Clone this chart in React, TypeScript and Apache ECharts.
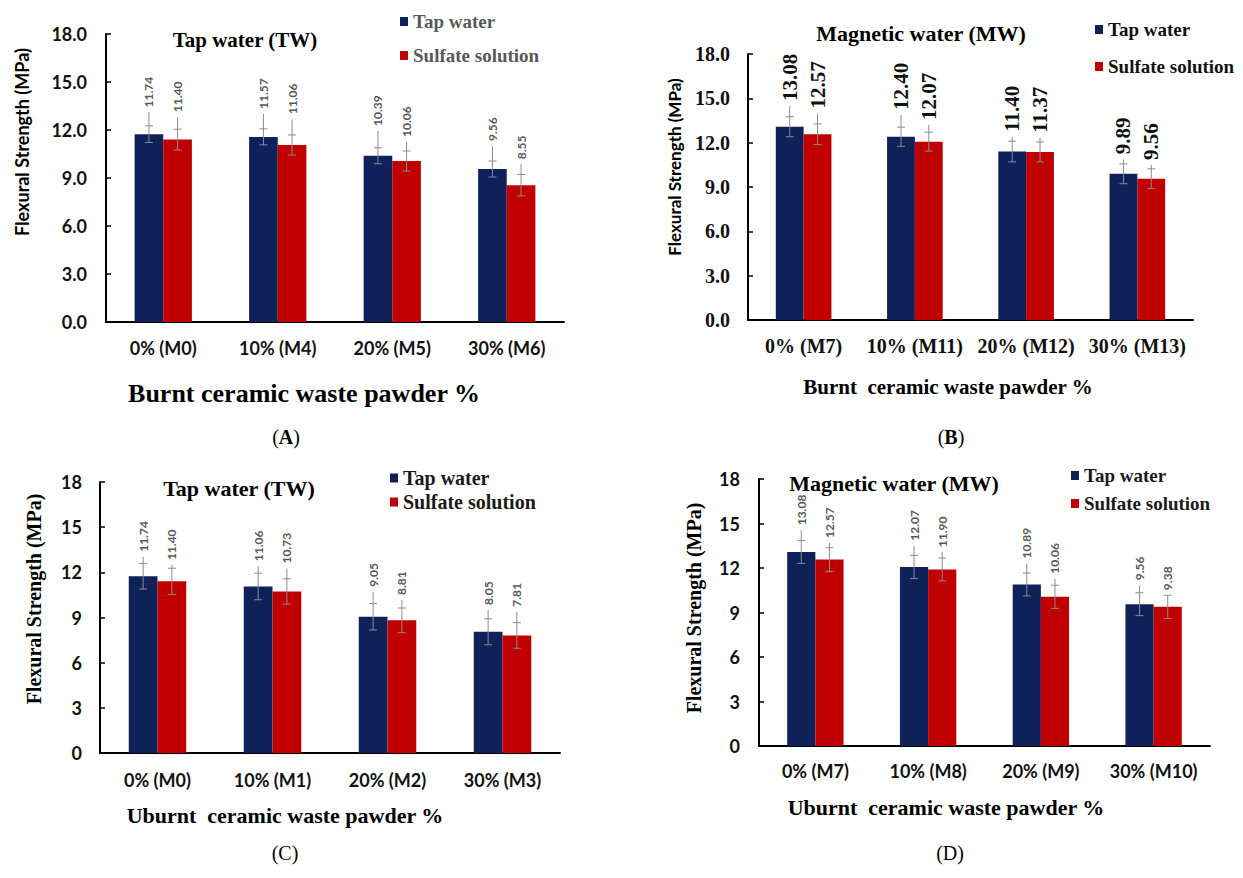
import React, { useEffect, useRef } from "react";
import * as echarts from "echarts";

// ---------- data ----------
const catA = ["0% (M0)", "10% (M4)", "20% (M5)", "30% (M6)"];
const tapA = [11.74, 11.57, 10.39, 9.56];
const sulA = [11.4, 11.06, 10.06, 8.55];
const tapErrA = [0.52, 0.5, 0.5, 0.5];
const sulErrA = [0.65, 0.63, 0.63, 0.67];
const tapLeadA = [13.1, 13.0, 11.94, 11.0];
const sulLeadA = [12.8, 12.67, 11.25, 9.86];

const catB = ["0% (M7)", "10% (M11)", "20% (M12)", "30% (M13)"];
const tapB = [13.08, 12.4, 11.4, 9.89];
const sulB = [12.57, 12.07, 11.37, 9.56];
const tapErrB = [0.68, 0.65, 0.7, 0.67];
const sulErrB = [0.7, 0.64, 0.68, 0.67];
const tapLeadB = [14.48, 13.87, 12.4, 10.87];
const sulLeadB = [13.98, 13.2, 12.33, 10.49];

const catC = ["0% (M0)", "10% (M1)", "20% (M2)", "30% (M3)"];
const tapC = [11.74, 11.06, 9.05, 8.05];
const sulC = [11.4, 10.73, 8.81, 7.81];
const tapErrC = [0.85, 0.88, 0.88, 0.86];
const sulErrC = [0.87, 0.84, 0.82, 0.85];
const tapLeadC = [13.03, 12.41, 10.71, 9.5];
const sulLeadC = [12.48, 12.26, 10.16, 9.38];

const catD = ["0% (M7)", "10% (M8)", "20% (M9)", "30% (M10)"];
const tapD = [13.08, 12.07, 10.89, 9.56];
const sulD = [12.57, 11.9, 10.06, 9.38];
const tapErrD = [0.77, 0.78, 0.77, 0.77];
const sulErrD = [0.8, 0.77, 0.78, 0.78];
const tapLeadD = [14.54, 13.5, 12.3, 10.84];
const sulLeadD = [13.69, 13.06, 11.27, 10.17];

const yMin = 0;
const yMax = 18;
const yStep = 3;

const legendNames = ["Tap water", "Sulfate solution"];

// ---------- styles ----------
const SERIF = "'Liberation Serif', 'Times New Roman', serif";
const SANS = "Lato, 'Open Sans', sans-serif";
const NAVY = "#0f2159";
const RED = "#c00000";
const ERR = "#8c8c8c";

type Panel = {
  cats: string[];
  tap: number[];
  sul: number[];
  tapErr: number[];
  sulErr: number[];
  tapLead: number[];
  sulLead: number[];
  grid: { left: number; top: number; width: number; height: number };
  tickFont: any;
  tickDecimals: number;
  tickMargin: number;
  catFont: any;
  catMargin: number;
  valFont: any;
};

const panels: Panel[] = [
  {
    cats: catA, tap: tapA, sul: sulA, tapErr: tapErrA, sulErr: sulErrA, tapLead: tapLeadA, sulLead: sulLeadA,
    grid: { left: 106, top: 34, width: 458, height: 288 },
    tickFont: { fontFamily: SANS, fontWeight: "bold", fontSize: 18, color: "#111" },
    tickDecimals: 1, tickMargin: 19,
    catFont: { fontFamily: SANS, fontWeight: "bold", fontSize: 18, color: "#111" },
    catMargin: 17,
    valFont: { fontFamily: SANS, fontWeight: "bold", fontSize: 12, fill: "#595959" },
  },
  {
    cats: catB, tap: tapB, sul: sulB, tapErr: tapErrB, sulErr: sulErrB, tapLead: tapLeadB, sulLead: sulLeadB,
    grid: { left: 748, top: 54, width: 445, height: 266 },
    tickFont: { fontFamily: SERIF, fontWeight: "bold", fontSize: 20, color: "#111" },
    tickDecimals: 1, tickMargin: 18,
    catFont: { fontFamily: SERIF, fontWeight: "bold", fontSize: 20, color: "#111" },
    catMargin: 16,
    valFont: { fontFamily: SERIF, fontWeight: "bold", fontSize: 21, fill: "#111" },
  },
  {
    cats: catC, tap: tapC, sul: sulC, tapErr: tapErrC, sulErr: sulErrC, tapLead: tapLeadC, sulLead: sulLeadC,
    grid: { left: 100, top: 482, width: 460, height: 271 },
    tickFont: { fontFamily: SANS, fontWeight: "bold", fontSize: 18, color: "#111" },
    tickDecimals: 0, tickMargin: 18,
    catFont: { fontFamily: SANS, fontWeight: "bold", fontSize: 18, color: "#111" },
    catMargin: 18,
    valFont: { fontFamily: SANS, fontWeight: "bold", fontSize: 12, fill: "#595959" },
  },
  {
    cats: catD, tap: tapD, sul: sulD, tapErr: tapErrD, sulErr: sulErrD, tapLead: tapLeadD, sulLead: sulLeadD,
    grid: { left: 759, top: 479, width: 451, height: 267 },
    tickFont: { fontFamily: SANS, fontWeight: "bold", fontSize: 18, color: "#111" },
    tickDecimals: 0, tickMargin: 19,
    catFont: { fontFamily: SANS, fontWeight: "bold", fontSize: 18, color: "#111" },
    catMargin: 16,
    valFont: { fontFamily: SANS, fontWeight: "bold", fontSize: 12, fill: "#595959" },
  },
];

function errSeries(p: Panel, idx: number, side: number, vals: number[], errs: number[], leads: number[]) {
  const data = vals.map((v, i) => ({ value: [i, v - errs[i], v + errs[i], leads[i], v] }));
  return {
    type: "custom",
    name: "err" + idx + side,
    xAxisIndex: idx,
    yAxisIndex: idx,
    z: 5,
    clip: false,
    silent: true,
    encode: { x: 0, y: [1, 2, 3] },
    data,
    renderItem: (params: any, api: any) => {
      const ci = api.value(0);
      const lo = api.coord([ci, api.value(1)]);
      const hi = api.coord([ci, api.value(2)]);
      const top = api.coord([ci, api.value(3)]);
      const bw = api.size([1, 0])[0] * 0.25;
      const x = lo[0] + (side * bw) / 2;
      const cap = 4;
      const ls = { stroke: ERR, lineWidth: 1 };
      return {
        type: "group",
        children: [
          { type: "line", shape: { x1: x, y1: top[1], x2: x, y2: lo[1] }, style: ls },
          { type: "line", shape: { x1: x - cap, y1: hi[1], x2: x + cap, y2: hi[1] }, style: ls },
          { type: "line", shape: { x1: x - cap, y1: lo[1], x2: x + cap, y2: lo[1] }, style: ls },
          {
            type: "text",
            x: x,
            y: top[1] - 5,
            rotation: Math.PI / 2,
            style: {
              text: Number(api.value(4)).toFixed(2),
              align: "left",
              verticalAlign: "middle",
              ...p.valFont,
            },
          },
        ],
      };
    },
  };
}

function buildOption() {
  const grid = panels.map((p) => ({ ...p.grid, containLabel: false }));
  const xAxis = panels.map((p, i) => ({
    type: "category",
    gridIndex: i,
    data: p.cats,
    axisLine: { show: true, lineStyle: { color: "#000", width: 2 } },
    axisTick: { show: false },
    axisLabel: { ...p.catFont, margin: p.catMargin, interval: 0 },
    splitLine: { show: false },
  }));
  const yAxis = panels.map((p, i) => ({
    type: "value",
    gridIndex: i,
    min: yMin,
    max: yMax,
    interval: yStep,
    axisLine: { show: true, lineStyle: { color: "#000", width: 2 } },
    axisTick: { show: true, inside: true, length: 5, lineStyle: { color: "#000", width: 1.5 } },
    axisLabel: {
      ...p.tickFont,
      margin: p.tickMargin,
      formatter: (v: number) => v.toFixed(p.tickDecimals),
    },
    splitLine: { show: false },
  }));
  const series: any[] = [];
  panels.forEach((p, i) => {
    series.push({
      type: "bar",
      name: legendNames[0],
      xAxisIndex: i,
      yAxisIndex: i,
      data: p.tap,
      barGap: "0%",
      barCategoryGap: "50%",
      itemStyle: { color: NAVY },
    });
    series.push({
      type: "bar",
      name: legendNames[1],
      xAxisIndex: i,
      yAxisIndex: i,
      data: p.sul,
      barGap: "0%",
      barCategoryGap: "50%",
      itemStyle: { color: RED },
    });
    series.push(errSeries(p, i, -1, p.tap, p.tapErr, p.tapLead));
    series.push(errSeries(p, i, 1, p.sul, p.sulErr, p.sulLead));
  });

  const legendBase = (left: number, top: number, gap: number, size: number, color: string) => ({
    data: legendNames,
    orient: "vertical",
    left,
    top,
    padding: 0,
    itemWidth: 8,
    itemHeight: 9,
    itemGap: gap,
    icon: "rect",
    selectedMode: false,
    textStyle: { fontFamily: SERIF, fontWeight: "bold", fontSize: size, color, lineHeight: size, padding: [0, 0, 0, 0] },
  });
  const legend = [
    legendBase(400, 12, 15, 19, "#595959"),
    legendBase(1095, 20, 18, 19, "#111"),
    legendBase(390, 468, 4, 20, "#1a1a1a"),
    legendBase(1071, 466, 9, 19, "#1a1a1a"),
  ];

  const t = (text: string, x: number, y: number, font: any, rot = 0) => ({
    type: "text",
    x,
    y,
    rotation: rot,
    silent: true,
    style: { text, align: "center", verticalAlign: "middle", fill: "#000", ...font },
  });
  const serifB = (s: number) => ({ fontFamily: SERIF, fontWeight: "bold", fontSize: s });
  const sansB = (s: number) => ({ fontFamily: SANS, fontWeight: "bold", fontSize: s });
  const letter = (L: string, x: number, y: number, bold: boolean) => ({
    type: "text",
    x,
    y,
    silent: true,
    style: {
      text: "(" + (bold ? "{b|" + L + "}" : L) + ")",
      align: "center",
      verticalAlign: "middle",
      fill: "#000",
      fontFamily: SERIF,
      fontSize: 20,
      rich: { b: { fontFamily: SERIF, fontSize: 20, fontWeight: "bold", fill: "#000" } },
    },
  });

  const graphic = [
    t("Tap water (TW)", 245, 40, serifB(21)),
    t("Magnetic water (MW)", 921, 33, serifB(22)),
    t("Tap water (TW)", 239, 488, serifB(22)),
    t("Magnetic water (MW)", 894, 483, serifB(22)),
    t("Burnt ceramic waste pawder %", 304, 393, serifB(26)),
    t("Burnt  ceramic waste pawder %", 948, 387, serifB(21)),
    t("Uburnt  ceramic waste pawder %", 285, 815, serifB(22)),
    t("Uburnt  ceramic waste pawder %", 946, 807, serifB(22)),
    t("Flexural Strength (MPa)", 22, 142, sansB(18), Math.PI / 2),
    t("Flexural Strength (MPa)", 674, 167, sansB(17), Math.PI / 2),
    t("Flexural Strength (MPa)", 34, 599, serifB(20), Math.PI / 2),
    t("Flexural Strength (MPa)", 694, 608, serifB(20), Math.PI / 2),
    letter("A", 286, 437, true),
    letter("B", 951, 437, true),
    letter("C", 285, 853, false),
    letter("D", 950, 853, false),
  ];

  return {
    animation: false,
    backgroundColor: "#fff",
    grid,
    xAxis,
    yAxis,
    legend,
    series,
    graphic,
  };
}

export default function App() {
  const ref = useRef<HTMLDivElement>(null);
  useEffect(() => {
    if (!ref.current) return;
    const chart = echarts.init(ref.current, undefined, { renderer: "svg" });
    chart.setOption(buildOption() as any);
    return () => chart.dispose();
  }, []);
  return (
    <div
      ref={ref}
      style={{ position: "fixed", left: 0, top: 0, width: 1243, height: 878, background: "#fff" }}
    />
  );
}
